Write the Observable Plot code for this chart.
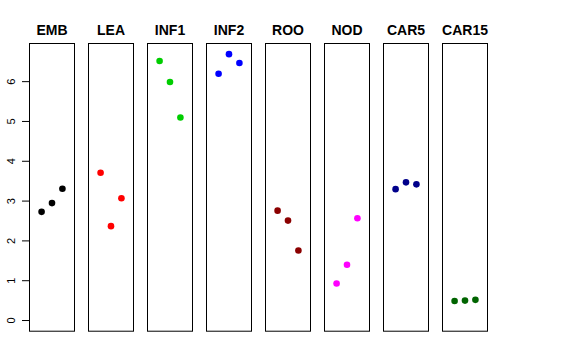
<!DOCTYPE html>
<html>
<head>
<meta charset="utf-8">
<script src="https://cdn.jsdelivr.net/npm/d3@7"></script>
<script src="https://cdn.jsdelivr.net/npm/@observablehq/plot@0.6"></script>
<style>
  html, body { margin: 0; padding: 0; background: #fff; }
</style>
</head>
<body>
<div id="chart"></div>
<script>
const panels = ["EMB", "LEA", "INF1", "INF2", "ROO", "NOD", "CAR5", "CAR15"];
const colors = ["#000000", "#FF0000", "#00CD00", "#0000FF", "#8B0000", "#FF00FF", "#00008B", "#006400"];
const emb   = [2.73, 2.95, 3.31];
const lea   = [3.71, 2.37, 3.07];
const inf1  = [6.52, 5.99, 5.10];
const inf2  = [6.20, 6.69, 6.47];
const roo   = [2.76, 2.51, 1.76];
const nod   = [0.93, 1.40, 2.57];
const car5  = [3.30, 3.47, 3.42];
const car15 = [0.49, 0.50, 0.52];
const yTicks = [0, 1, 2, 3, 4, 5, 6];

const series = [emb, lea, inf1, inf2, roo, nod, car5, car15];
const rows = [];
series.forEach((vals, i) => vals.forEach((v, j) => rows.push({panel: panels[i], idx: j + 1, value: v, color: colors[i]})));

const chart = Plot.plot({
  width: 576,
  height: 360,
  marginLeft: 28.5,
  marginRight: 88,
  marginTop: 43,
  marginBottom: 29.3,
  style: {fontFamily: "'Liberation Sans', Arial, Helvetica, sans-serif", background: "#fff", color: "#000"},
  fx: {domain: panels, axis: null, paddingInner: 0.245, paddingOuter: 0},
  x: {domain: [-0.16, 4.16], axis: null},
  y: {domain: [-0.268, 6.958]},
  marks: [
    Plot.frame({stroke: "#000", strokeWidth: 1}),
    Plot.axisY({ticks: yTicks, tickSize: 7, tickPadding: 8, tickRotate: -90, textAnchor: "middle", lineAnchor: "bottom", fontSize: 11, label: null, stroke: "#000", strokeOpacity: 1, fill: "#000"}),
    Plot.text(panels, {fx: d => d, text: d => d, frameAnchor: "top", dy: -9, lineAnchor: "bottom", fontWeight: "bold", fontSize: 14, fill: "#000"}),
    Plot.dot(rows, {fx: "panel", x: "idx", y: "value", r: 3.3, fill: "color", stroke: null})
  ]
});
document.getElementById("chart").appendChild(chart);
</script>
</body>
</html>
